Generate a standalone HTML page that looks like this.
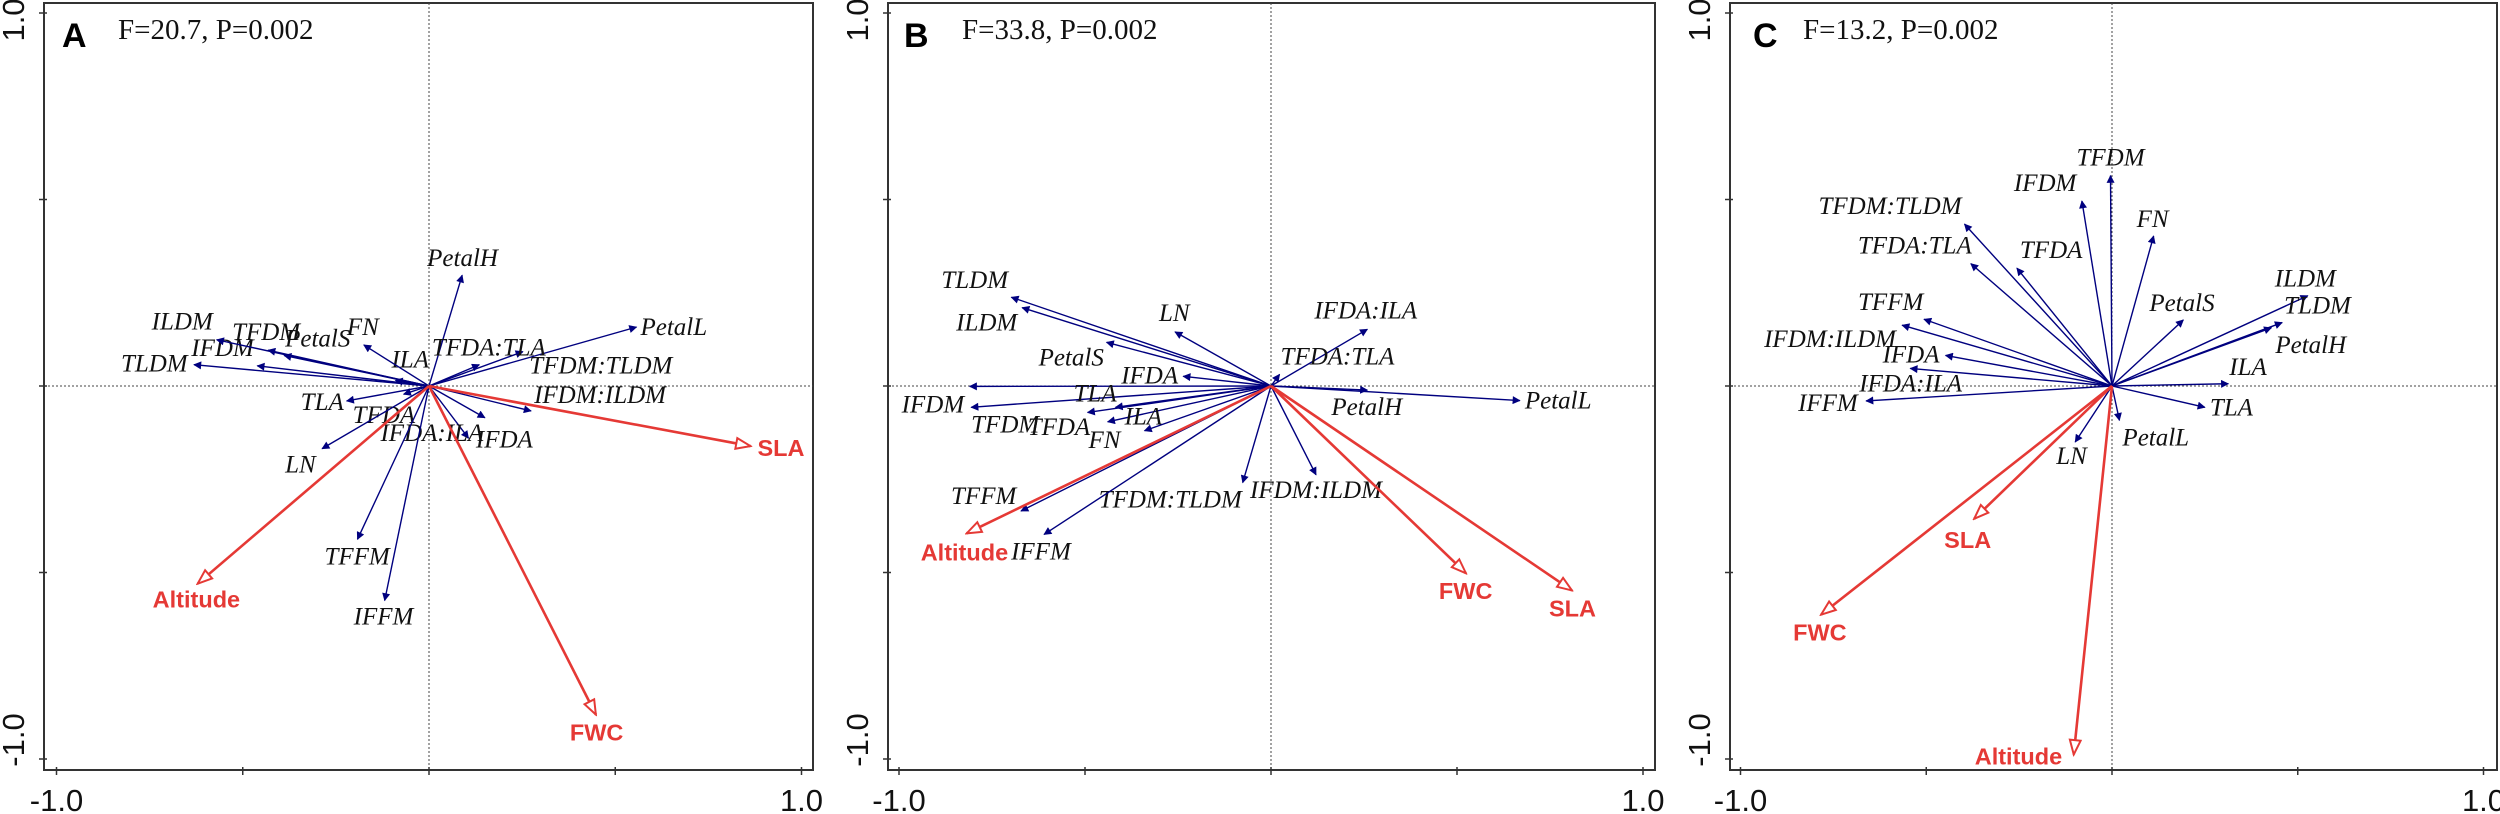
<!DOCTYPE html>
<html><head><meta charset="utf-8">
<style>
html,body{margin:0;padding:0;background:#fff;}
svg{display:block;}
.lbl{font-family:"Liberation Serif",serif;font-style:italic;font-size:25px;fill:#111;}
.env{font-family:"Liberation Sans",sans-serif;font-weight:bold;font-size:23.5px;fill:#e53935;}
.tick{font-family:"Liberation Sans",sans-serif;font-size:31px;fill:#111;}
.hdr{font-family:"Liberation Serif",serif;font-size:29px;fill:#111;}
.pl{font-family:"Liberation Sans",sans-serif;font-weight:bold;font-size:34px;fill:#000;}
</style></head>
<body>
<svg id="chart" width="2500" height="814" viewBox="0 0 2500 814" xmlns="http://www.w3.org/2000/svg">
<defs>
<marker id="bh" viewBox="0 0 10 10" refX="9" refY="5" markerWidth="11" markerHeight="8" markerUnits="userSpaceOnUse" orient="auto"><path d="M0,0 L10,5 L0,10 z" fill="#00007f"/></marker>
<marker id="rh" viewBox="0 0 20 16" refX="18" refY="8" markerWidth="18" markerHeight="15" markerUnits="userSpaceOnUse" orient="auto"><path d="M2,2 L18,8 L2,14 z" fill="#fff" stroke="#e53935" stroke-width="2.2"/></marker>
</defs>
</svg>
<script>
// ---------- Panel A data ----------
const namesA = ["PetalH","PetalL","TFDA:TLA","TFDM:TLDM","IFDM:ILDM","IFDA","IFDA:ILA","ILA","FN","PetalS","TFDM","IFDM","ILDM","TLDM","TLA","TFDA","LN","TFFM","IFFM"];
const xA = [0.089,0.557,0.252,0.135,0.274,0.150,0.106,-0.090,-0.175,-0.389,-0.432,-0.461,-0.570,-0.631,-0.221,-0.068,-0.287,-0.192,-0.119];
const yA = [0.297,0.158,0.092,0.057,-0.067,-0.085,-0.140,0.015,0.110,0.082,0.096,0.054,0.124,0.057,-0.040,-0.022,-0.168,-0.411,-0.575];
const envNamesA = ["SLA","FWC","Altitude"];
const envXA = [0.863,0.448,-0.621];
const envYA = [-0.161,-0.881,-0.530];
const statA = "F=20.7, P=0.002";
// ---------- Panel B data ----------
const namesB = ["TLDM","ILDM","LN","IFDA:ILA","PetalS","TFDA:TLA","IFDA","IFDM","PetalH","PetalL","TFDM","TLA","TFDA","ILA","FN","TFDM:TLDM","IFDM:ILDM","TFFM","IFFM"];
const xB = [-0.698,-0.669,-0.258,0.259,-0.442,0.023,-0.236,-0.810,0.259,0.669,-0.806,-0.493,-0.439,-0.418,-0.340,-0.076,0.121,-0.672,-0.610];
const yB = [0.238,0.210,0.145,0.152,0.117,0.031,0.026,-0.001,-0.011,-0.039,-0.057,-0.071,-0.096,-0.057,-0.120,-0.259,-0.238,-0.335,-0.398];
const envNamesB = ["Altitude","FWC","SLA"];
const envXB = [-0.818,0.524,0.809];
const envYB = [-0.395,-0.502,-0.548];
const statB = "F=33.8, P=0.002";
// ---------- Panel C data ----------
const namesC = ["TFDM","IFDM","TFDM:TLDM","FN","TFDA:TLA","TFDA","ILDM","PetalS","TLDM","PetalH","TFFM","IFDM:ILDM","IFDA","IFDA:ILA","ILA","IFFM","TLA","PetalL","LN"];
const xC = [-0.004,-0.081,-0.397,0.112,-0.380,-0.256,0.527,0.192,0.458,0.429,-0.506,-0.565,-0.448,-0.543,0.313,-0.662,0.250,0.020,-0.099];
const yC = [0.564,0.496,0.434,0.402,0.328,0.316,0.242,0.177,0.170,0.156,0.179,0.163,0.082,0.047,0.006,-0.040,-0.057,-0.092,-0.150];
const envNamesC = ["SLA","FWC","Altitude"];
const envXC = [-0.371,-0.783,-0.103];
const envYC = [-0.356,-0.613,-0.988];
const statC = "F=13.2, P=0.002";
const axisTicks = [-1,-0.5,0,0.5,1];
const axisTickLabels = ["-1.0","1.0"];

// label pixel offsets (layout only)
const offA = [[-35,-9],[4,8],[-91,4],[50,9],[3,-8],[-9,30],[-88,3],[-4,-13],[-17,-10],[1,-9],[-36,-10],[-66,-10],[-65,-10],[-73,7],[-46,9],[-51,29],[-37,24],[-33,25],[-31,24]];
const envOffA = [[7,10],[-26,26],[-45,24]];
const offB = [[-70,-9],[-66,23],[-16,-11],[-53,-11],[-68,23],[1,-10],[-62,7],[-68,26],[-36,25],[5,8],[0,25],[-14,-11],[-80,13],[9,17],[-56,17],[-144,25],[-66,23],[-70,-7],[-33,25]];
const envOffB = [[-46,27],[-27,26],[-23,26]];
const offC = [[-34,-10],[-68,-10],[-146,-10],[-17,-9],[-113,-10],[3,-10],[-33,-9],[-34,-9],[2,-9],[4,25],[-66,-9],[-138,22],[-63,7],[-51,23],[1,-9],[-68,10],[5,8],[3,25],[-19,22]];
const envOffC = [[-30,29],[-28,26],[-99,10]];

const NS="http://www.w3.org/2000/svg";
const svg=document.getElementById('chart');
function mk(tag,attrs,parent){const e=document.createElementNS(NS,tag);for(const k in attrs)e.setAttribute(k,attrs[k]);(parent||svg).appendChild(e);return e;}

function panel(cfg){
  const g=mk('g',{});
  
  
  const sx=v=>cfg.x0+v*cfg.ux;
  const sy=v=>386-v*373;
  const bottom=770, top=3;
  const box=mk('rect',{x:cfg.left,y:top,width:cfg.right-cfg.left,height:bottom-top,fill:'none',stroke:'#333','stroke-width':2},g);
  
  
  const vl=mk('line',{x1:sx(0),x2:sx(0),y1:top,y2:bottom,stroke:'#444','stroke-width':1,'stroke-dasharray':'2,2'},g);
  
  
  const hl=mk('line',{x1:cfg.left,x2:cfg.right,y1:sy(0),y2:sy(0),stroke:'#444','stroke-width':1,'stroke-dasharray':'2,2'},g);
  
  
  axisTicks.forEach(t=>{
    const a=mk('line',{x1:sx(t),x2:sx(t),y1:bottom-3,y2:bottom+5,stroke:'#333','stroke-width':1.5},g);
    
    
    const b=mk('line',{x1:cfg.left-5,x2:cfg.left+3,y1:sy(t),y2:sy(t),stroke:'#333','stroke-width':1.5},g);
    
    
  });
  [[-1,axisTickLabels[0]],[1,axisTickLabels[1]]].forEach(([v,s])=>{
    const t=mk('text',{x:sx(v),y:811,'text-anchor':'middle',class:'tick'},g);t.textContent=s;
    
    
  });
  const yl1=mk('text',{x:0,y:0,'text-anchor':'middle',class:'tick',transform:`translate(${cfg.left-20},${20}) rotate(-90)`},g);yl1.textContent=axisTickLabels[1];
  
  
  const yl2=mk('text',{x:0,y:0,'text-anchor':'middle',class:'tick',transform:`translate(${cfg.left-20},${740}) rotate(-90)`},g);yl2.textContent=axisTickLabels[0];
  
  
  const pl=mk('text',{x:cfg.lx,y:47,class:'pl'},g);pl.textContent=cfg.letter;
  
  
  const st=mk('text',{x:cfg.fx,y:39,class:'hdr'},g);st.textContent=cfg.stat;
  
  
  cfg.names.forEach((n,i)=>{
    const X=sx(cfg.xs[i]),Y=sy(cfg.ys[i]);
    const l=mk('line',{x1:sx(0),y1:sy(0),x2:X,y2:Y,stroke:'#00007f','stroke-width':1.4,'marker-end':'url(#bh)'},g);
    
    
    const o=cfg.off[i]||[0,0];
    const t=mk('text',{x:X+o[0],y:Y+o[1],class:'lbl'},g);t.textContent=n;
    
    
  });
  cfg.envNames.forEach((n,i)=>{
    const X=sx(cfg.ex[i]),Y=sy(cfg.ey[i]);
    const l=mk('line',{x1:sx(0),y1:sy(0),x2:X,y2:Y,stroke:'#e53935','stroke-width':2.6,'marker-end':'url(#rh)'},g);
    
    
    const o=cfg.envOff[i]||[0,0];
    const t=mk('text',{x:X+o[0],y:Y+o[1],class:'env'},g);t.textContent=n;
    
    
  });
}
panel({letter:'A',stat:statA,left:44,right:813,x0:429,ux:372.5,lx:62,fx:118,names:namesA,xs:xA,ys:yA,off:offA,envNames:envNamesA,ex:envXA,ey:envYA,envOff:envOffA});
panel({letter:'B',stat:statB,left:888,right:1655,x0:1271,ux:372,lx:904,fx:962,names:namesB,xs:xB,ys:yB,off:offB,envNames:envNamesB,ex:envXB,ey:envYB,envOff:envOffB});
panel({letter:'C',stat:statC,left:1730,right:2497,x0:2112,ux:371.5,lx:1753,fx:1803,names:namesC,xs:xC,ys:yC,off:offC,envNames:envNamesC,ex:envXC,ey:envYC,envOff:envOffC});
</script>
</body></html>
